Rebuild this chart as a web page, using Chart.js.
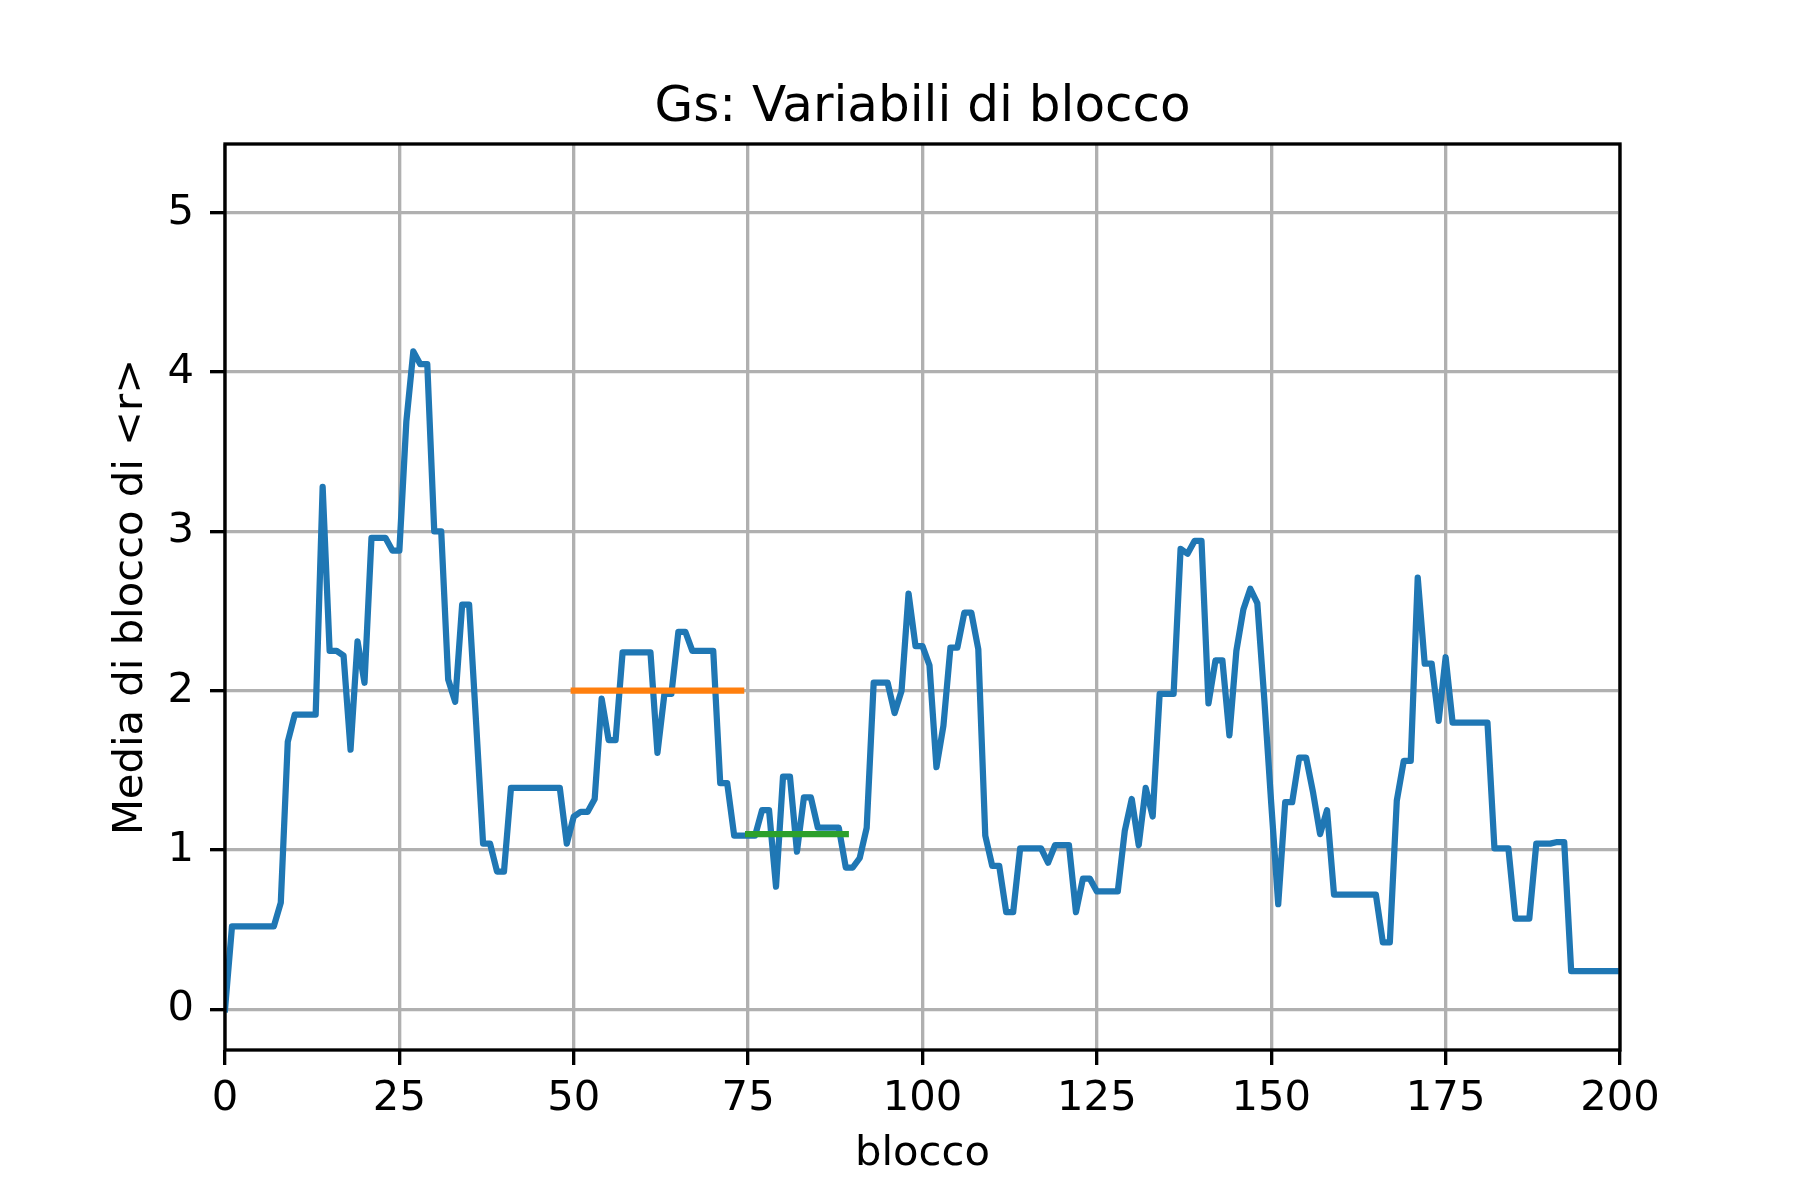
<!DOCTYPE html>
<html lang="it">
<head>
  <meta charset="UTF-8" />
  <title>Gs: Variabili di blocco</title>
  <script src="https://cdn.jsdelivr.net/npm/chart.js"></script>
  <style>
    html, body { margin: 0; padding: 0; background: #fff; }
    canvas { display: block; }
  </style>
</head>
<body>
  <canvas id="grafico" width="1800" height="1200" style="width:1800px;height:1200px"></canvas>
<script>
// blocchi (asse x)
const blocchi = [
  0, 1, 2, 3, 4, 5, 6, 7, 8, 9,
  10, 11, 12, 13, 14, 15, 16, 17, 18, 19,
  20, 21, 22, 23, 24, 25, 26, 27, 28, 29,
  30, 31, 32, 33, 34, 35, 36, 37, 38, 39,
  40, 41, 42, 43, 44, 45, 46, 47, 48, 49,
  50, 51, 52, 53, 54, 55, 56, 57, 58, 59,
  60, 61, 62, 63, 64, 65, 66, 67, 68, 69,
  70, 71, 72, 73, 74, 75, 76, 77, 78, 79,
  80, 81, 82, 83, 84, 85, 86, 87, 88, 89,
  90, 91, 92, 93, 94, 95, 96, 97, 98, 99,
  100, 101, 102, 103, 104, 105, 106, 107, 108, 109,
  110, 111, 112, 113, 114, 115, 116, 117, 118, 119,
  120, 121, 122, 123, 124, 125, 126, 127, 128, 129,
  130, 131, 132, 133, 134, 135, 136, 137, 138, 139,
  140, 141, 142, 143, 144, 145, 146, 147, 148, 149,
  150, 151, 152, 153, 154, 155, 156, 157, 158, 159,
  160, 161, 162, 163, 164, 165, 166, 167, 168, 169,
  170, 171, 172, 173, 174, 175, 176, 177, 178, 179,
  180, 181, 182, 183, 184, 185, 186, 187, 188, 189,
  190, 191, 192, 193, 194, 195, 196, 197, 198, 199,
  200
];

// media di blocco di <r>
const mediaR = [
  0, 0.52, 0.52, 0.52, 0.52, 0.52, 0.52, 0.52, 0.67, 1.68,
  1.85, 1.85, 1.85, 1.85, 3.28, 2.25, 2.25, 2.22, 1.63, 2.31,
  2.05, 2.96, 2.96, 2.96, 2.88, 2.88, 3.69, 4.13, 4.05, 4.05,
  3.0, 3.0, 2.07, 1.93, 2.54, 2.54, 1.8, 1.04, 1.04, 0.865,
  0.865, 1.39, 1.39, 1.39, 1.39, 1.39, 1.39, 1.39, 1.39, 1.04,
  1.21, 1.24, 1.24, 1.32, 1.95, 1.69, 1.69, 2.24, 2.24, 2.24,
  2.24, 2.24, 1.61, 1.98, 1.98, 2.37, 2.37, 2.25, 2.25, 2.25,
  2.25, 1.42, 1.42, 1.09, 1.09, 1.09, 1.09, 1.25, 1.25, 0.77,
  1.46, 1.46, 0.99, 1.33, 1.33, 1.14, 1.14, 1.14, 1.14, 0.89,
  0.89, 0.95, 1.14, 2.05, 2.05, 2.05, 1.86, 2.0, 2.61, 2.28,
  2.28, 2.16, 1.52, 1.78, 2.27, 2.27, 2.49, 2.49, 2.26, 1.09,
  0.90, 0.90, 0.61, 0.61, 1.01, 1.01, 1.01, 1.01, 0.92, 1.03,
  1.03, 1.03, 0.61, 0.82, 0.82, 0.74, 0.74, 0.74, 0.74, 1.12,
  1.32, 1.03, 1.39, 1.21, 1.98, 1.98, 1.98, 2.89, 2.86, 2.94,
  2.94, 1.92, 2.19, 2.19, 1.72, 2.25, 2.51, 2.64, 2.55, 1.95,
  1.29, 0.66, 1.30, 1.30, 1.58, 1.58, 1.36, 1.10, 1.25, 0.72,
  0.72, 0.72, 0.72, 0.72, 0.72, 0.72, 0.42, 0.42, 1.31, 1.56,
  1.56, 2.71, 2.17, 2.17, 1.81, 2.21, 1.80, 1.80, 1.80, 1.80,
  1.80, 1.80, 1.01, 1.01, 1.01, 0.57, 0.57, 0.57, 1.04, 1.04,
  1.04, 1.05, 1.05, 0.24, 0.24, 0.24, 0.24, 0.24, 0.24, 0.24,
  0.24
];

// segmenti orizzontali
const arancioX = [50, 74];
const arancioY = [2.0, 2.0];
const verdeX = [75, 89];
const verdeY = [1.1, 1.1];

// tacche
const xTicks = [0, 25, 50, 75, 100, 125, 150, 175, 200];
const yTicks = [0, 1, 2, 3, 4, 5];

const toPoints = (xs, ys) => xs.map((x, i) => ({ x, y: ys[i] }));

const FONT = "'DejaVu Sans', 'Liberation Sans', sans-serif";
const LW = 300 / 72; // 1pt a 300 dpi

// cornice nera su tutti e quattro i lati
const spines = {
  id: 'spines',
  afterDatasetsDraw(chart) {
    const { ctx, chartArea: a } = chart;
    ctx.save();
    ctx.strokeStyle = '#000';
    ctx.lineWidth = 0.8 * LW;
    ctx.lineJoin = 'miter';
    ctx.strokeRect(a.left, a.top, a.right - a.left, a.bottom - a.top);
    ctx.restore();
  }
};

new Chart(document.getElementById('grafico').getContext('2d'), {
  type: 'line',
  data: {
    datasets: [
      {
        label: 'media',
        data: toPoints(blocchi, mediaR),
        borderColor: '#1f77b4',
        borderWidth: 1.5 * LW,
        borderJoinStyle: 'round',
        borderCapStyle: 'square',
        pointRadius: 0,
        tension: 0,
        fill: false,
        order: 3
      },
      {
        label: 'arancio',
        data: toPoints(arancioX, arancioY),
        borderColor: '#ff7f0e',
        borderWidth: 1.5 * LW,
        borderCapStyle: 'square',
        pointRadius: 0,
        fill: false,
        order: 2
      },
      {
        label: 'verde',
        data: toPoints(verdeX, verdeY),
        borderColor: '#2ca02c',
        borderWidth: 1.5 * LW,
        borderCapStyle: 'square',
        pointRadius: 0,
        fill: false,
        order: 1
      }
    ]
  },
  options: {
    responsive: false,
    devicePixelRatio: 1,
    animation: false,
    layout: { padding: { left: 0, top: 0, right: 180, bottom: 0 } },
    plugins: {
      legend: { display: false },
      tooltip: { enabled: false },
      title: {
        display: true,
        fullSize: false,
        text: 'Gs: Variabili di blocco',
        color: '#000',
        font: { family: FONT, size: 50, weight: 'normal' },
        padding: { top: 78, bottom: 6 }
      }
    },
    scales: {
      x: {
        type: 'linear',
        min: 0,
        max: 200,
        afterBuildTicks: s => { s.ticks = xTicks.map(v => ({ value: v })); },
        afterFit: s => { s.height = 150; },
        ticks: {
          color: '#000',
          font: { family: FONT, size: 41.7 },
          padding: 9,
          maxRotation: 0,
          autoSkip: false,
          callback: v => String(v)
        },
        grid: {
          color: '#b0b0b0',
          lineWidth: 0.8 * LW,
          drawTicks: true,
          tickLength: 15,
          tickColor: '#000',
          tickWidth: 0.8 * LW
        },
        border: { display: false },
        title: {
          display: true,
          text: 'blocco',
          color: '#000',
          font: { family: FONT, size: 41.7 },
          padding: { top: 0, bottom: 21 }
        }
      },
      y: {
        type: 'linear',
        min: -0.2555,
        max: 5.432,
        afterBuildTicks: s => { s.ticks = yTicks.map(v => ({ value: v })); },
        afterFit: s => { s.width = 225; },
        ticks: {
          color: '#000',
          font: { family: FONT, size: 41.7 },
          padding: 16,
          autoSkip: false,
          callback: v => String(v)
        },
        grid: {
          color: '#b0b0b0',
          lineWidth: 0.8 * LW,
          drawTicks: true,
          tickLength: 15,
          tickColor: '#000',
          tickWidth: 0.8 * LW
        },
        border: { display: false },
        title: {
          display: true,
          text: 'Media di blocco di <r>',
          color: '#000',
          font: { family: FONT, size: 41.7 },
          padding: { top: 106, bottom: 0 }
        }
      }
    }
  },
  plugins: [spines]
});
</script>
</body>
</html>
